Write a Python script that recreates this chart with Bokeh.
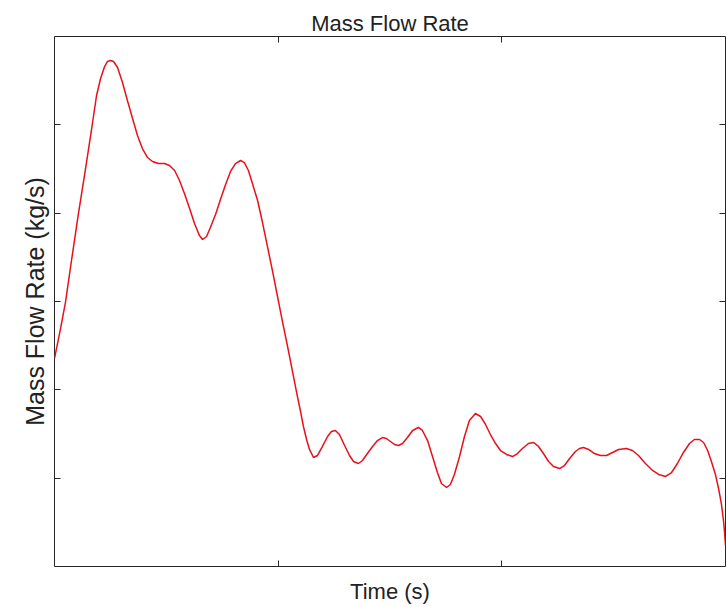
from bokeh.plotting import figure
from bokeh.models import LinearAxis, FixedTicker, Range1d
from bokeh.embed import file_html
from bokeh.resources import INLINE

# Time (s) and mass flow rate (kg/s)
time_s = [0.000, 0.027, 0.049, 0.076, 0.107, 0.139, 0.165, 0.188, 0.206, 0.224,
          0.237, 0.250, 0.264, 0.282, 0.304, 0.326, 0.349, 0.371, 0.393, 0.416,
          0.438, 0.465, 0.492, 0.514, 0.537, 0.559, 0.581, 0.604, 0.626, 0.648,
          0.662, 0.680, 0.697, 0.720, 0.742, 0.765, 0.787, 0.809, 0.832, 0.849,
          0.867, 0.885, 0.908, 0.930, 0.952, 0.975, 0.997, 1.019, 1.042, 1.064,
          1.086, 1.100, 1.113, 1.127, 1.140, 1.158, 1.176, 1.198, 1.221, 1.238,
          1.256, 1.274, 1.297, 1.319, 1.337, 1.359, 1.377, 1.399, 1.422, 1.444,
          1.466, 1.484, 1.502, 1.520, 1.538, 1.556, 1.578, 1.601, 1.627, 1.645,
          1.668, 1.690, 1.712, 1.730, 1.753, 1.770, 1.788, 1.811, 1.833, 1.855,
          1.882, 1.905, 1.927, 1.949, 1.972, 1.994, 2.021, 2.048, 2.070, 2.092,
          2.119, 2.142, 2.164, 2.186, 2.209, 2.231, 2.258, 2.280, 2.303, 2.329,
          2.347, 2.365, 2.388, 2.414, 2.441, 2.468, 2.495, 2.522, 2.557, 2.584,
          2.611, 2.642, 2.674, 2.701, 2.732, 2.759, 2.785, 2.812, 2.839, 2.861,
          2.884, 2.902, 2.920, 2.937, 2.955, 2.969, 2.982, 2.991, 2.996, 3.000]

flow_kg_s = [2.355, 2.694, 2.989, 3.464, 3.996, 4.506, 4.936, 5.332, 5.525, 5.660,
             5.717, 5.728, 5.717, 5.649, 5.479, 5.275, 5.072, 4.879, 4.732, 4.630,
             4.585, 4.562, 4.562, 4.540, 4.483, 4.370, 4.223, 4.053, 3.883, 3.747,
             3.702, 3.736, 3.838, 3.985, 4.155, 4.325, 4.472, 4.562, 4.596, 4.573,
             4.483, 4.336, 4.143, 3.894, 3.623, 3.340, 3.057, 2.774, 2.491, 2.208,
             1.925, 1.755, 1.585, 1.438, 1.325, 1.234, 1.257, 1.359, 1.472, 1.528,
             1.540, 1.494, 1.370, 1.257, 1.189, 1.166, 1.200, 1.279, 1.359, 1.426,
             1.460, 1.449, 1.415, 1.381, 1.370, 1.392, 1.460, 1.540, 1.574, 1.540,
             1.426, 1.245, 1.064, 0.940, 0.894, 0.928, 1.042, 1.245, 1.472, 1.653,
             1.732, 1.698, 1.608, 1.494, 1.392, 1.313, 1.268, 1.245, 1.279, 1.336,
             1.392, 1.404, 1.359, 1.279, 1.189, 1.132, 1.109, 1.143, 1.223, 1.302,
             1.336, 1.347, 1.325, 1.279, 1.257, 1.257, 1.291, 1.325, 1.336, 1.313,
             1.257, 1.166, 1.087, 1.042, 1.019, 1.064, 1.166, 1.291, 1.392, 1.438,
             1.438, 1.404, 1.313, 1.189, 1.042, 0.883, 0.702, 0.521, 0.385, 0.238]

x_ticks = [1, 2]
y_ticks = [1, 2, 3, 4, 5]

AX = "#262626"
FONT = "Liberation Sans"

p = figure(width=726, height=607, output_backend="svg", toolbar_location=None,
           x_range=Range1d(0, 3), y_range=Range1d(0, 6),
           x_axis_type=None, y_axis_type=None,
           min_border_left=54, min_border_right=1,
           min_border_top=36, min_border_bottom=41,
           background_fill_color="white", border_fill_color="white")

p.outline_line_color = AX
p.outline_line_width = 1

p.title.text = "Mass Flow Rate"
p.title.align = "center"
p.title.text_font = FONT
p.title.text_font_size = "22px"
p.title.text_font_style = "normal"
p.title.text_color = "#222222"
p.title.standoff = 2
p.title.offset = 0


def make_axis(ticks, label=None):
    ax = LinearAxis(ticker=FixedTicker(ticks=ticks, minor_ticks=[]))
    ax.major_tick_in = 6
    ax.major_tick_out = 0
    ax.minor_tick_in = 0
    ax.minor_tick_out = 0
    ax.axis_line_color = None
    ax.major_tick_line_color = AX
    # the reference shows tick marks only, no tick numbers
    ax.major_label_text_font_size = "0px"
    ax.major_label_text_color = None
    ax.major_label_standoff = 0
    if label:
        ax.axis_label = label
        ax.axis_label_text_font = FONT
        ax.axis_label_text_font_style = "normal"
        ax.axis_label_text_color = "#222222"
    return ax


xb = make_axis(x_ticks, "Time (s)")
xb.axis_label_text_font_size = "22px"
xb.axis_label_standoff = 12
p.add_layout(xb, "below")

yl = make_axis(y_ticks, "Mass Flow Rate (kg/s)")
yl.axis_label_text_font_size = "25px"
yl.axis_label_standoff = 6
p.add_layout(yl, "left")

p.add_layout(make_axis(x_ticks), "above")
p.add_layout(make_axis(y_ticks), "right")

p.line(time_s, flow_kg_s, line_color="#e8101a", line_width=1.5)

open("out.html", "w").write(file_html(p, INLINE))
